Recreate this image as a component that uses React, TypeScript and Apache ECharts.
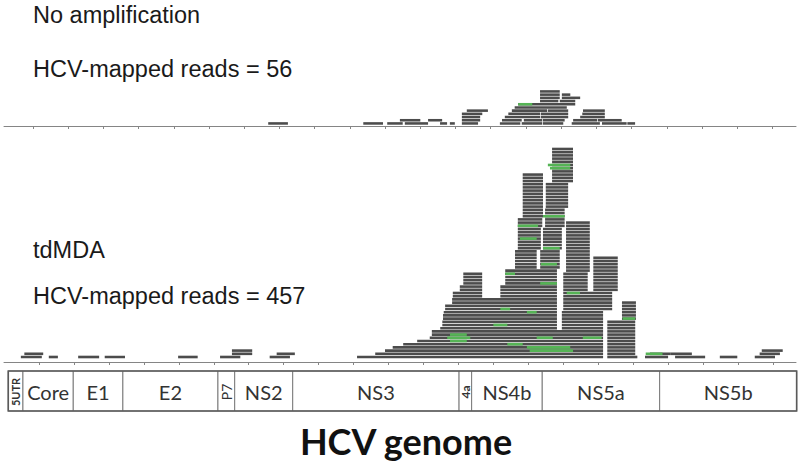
import React, { useEffect, useRef } from "react";
import * as echarts from "echarts";

// Genome position ticks (bp)
const tickPositions = [
  0, 500, 1000, 1500, 2000, 2500, 3000, 3500, 4000, 4500, 5000, 5500,
  6000, 6500, 7000, 7500, 8000, 8500, 9000, 9500, 10000, 10500,
];

// "No amplification" panel: reads as [start bp, end bp, pileup row]
const noAmpReads: [number, number, number][] = [
  [3340, 3620, 0], [4690, 4970, 0], [5030, 5250, 0], [5280, 5610, 0], [5780, 5880, 0],
  [5920, 5990, 0], [6090, 6320, 0], [6630, 6920, 0], [6940, 7230, 0], [7240, 7530, 0],
  [7650, 8050, 0], [8080, 8430, 0], [8440, 8550, 0],
  [5210, 5500, 1], [5610, 5810, 1], [6090, 6350, 1], [6660, 6940, 1], [6970, 7230, 1],
  [7240, 7550, 1], [7670, 8010, 1], [8020, 8360, 1],
  [6090, 6350, 2], [6700, 7200, 2], [7210, 7600, 2], [7770, 8120, 2],
  [6090, 6380, 3], [6750, 7200, 3], [7210, 7600, 3], [7800, 8120, 3],
  [6160, 6460, 4], [6800, 7300, 4], [7310, 7600, 4], [7810, 8120, 4],
  [6840, 7580, 5],
  [6890, 7700, 6],
  [7200, 7460, 7], [7480, 7700, 7],
  [7200, 7480, 8], [7510, 7770, 8],
  [7200, 7480, 9], [7510, 7630, 9],
  [7200, 7480, 10],
];
const noAmpGreenReads: [number, number, number][] = [[6890, 7090, 6]];

// tdMDA panel: stacked read runs as [start bp, end bp, first row, last row]
const tdmdaBlocks: [number, number, number, number][] = [
  [-260, 40, 0, 0], [-210, 60, 1, 1], [140, 270, 0, 0], [560, 860, 0, 0], [940, 1230, 0, 0],
  [1990, 2270, 0, 0], [2590, 2880, 0, 0], [2760, 3050, 1, 2], [3300, 3590, 0, 0], [3400, 3660, 1, 1],
  [4550, 8070, 0, 0], [4810, 8070, 1, 1], [4950, 8070, 2, 2], [5060, 8070, 3, 3],
  [5210, 8070, 4, 4], [5410, 8070, 5, 5], [5590, 8070, 6, 6], [5620, 8070, 7, 8],
  [5740, 7410, 9, 9], [5770, 7410, 10, 11], [5780, 7410, 12, 13], [5790, 7410, 14, 14],
  [7480, 8070, 9, 14],
  [5810, 7410, 15, 16], [5910, 7410, 17, 18], [7500, 8200, 15, 20],
  [5920, 6340, 19, 20], [6600, 7410, 19, 22],
  [6020, 6340, 21, 22], [6070, 6340, 23, 26], [6670, 7410, 23, 27],
  [7500, 7850, 21, 26], [7930, 8280, 21, 31], [7540, 7880, 27, 42],
  [6810, 7120, 28, 33], [7170, 7450, 28, 33],
  [6850, 7180, 34, 40], [7210, 7480, 34, 40],
  [6850, 7200, 41, 43], [7240, 7520, 41, 46],
  [6920, 7210, 44, 57], [7250, 7570, 47, 54], [7340, 7640, 55, 65],
  [8130, 8560, 0, 0], [8130, 8530, 1, 11], [8340, 8540, 12, 17],
  [8670, 9000, 0, 0], [9100, 9530, 0, 0], [8740, 9030, 1, 1], [9030, 9340, 1, 1],
  [9740, 9990, 0, 0], [10240, 10530, 0, 0], [10310, 10600, 1, 1], [10340, 10640, 2, 2],
];
const tdmdaGreenReads: [number, number, number][] = [
  [5840, 6170, 6], [5880, 6120, 7], [5880, 6120, 5], [6850, 7140, 41], [6880, 7120, 37],
  [7280, 7600, 60], [7310, 7600, 59], [7210, 7520, 44], [7210, 7450, 34], [7180, 7410, 29],
  [6670, 6810, 26], [7170, 7410, 23], [7550, 7740, 20], [6600, 6740, 15], [6980, 7120, 14],
  [8350, 8530, 12], [6500, 6700, 10], [7120, 7350, 6], [7780, 8050, 6], [6980, 7600, 3],
  [6700, 6920, 4], [7020, 7640, 2], [8680, 8920, 1],
];

// HCV genome regions (bp)
const regionNames = ["5UTR", "Core", "E1", "E2", "P7", "NS2", "NS3", "4a", "NS4b", "NS5a", "NS5b"];
const regionStarts = [-440, -230, 490, 1200, 2560, 2800, 3630, 6010, 6190, 7200, 8880];
const regionEnds = [-230, 490, 1200, 2560, 2800, 3630, 6010, 6190, 7200, 8880, 10840];
const regionVertical = [true, false, false, false, true, false, false, true, false, false, false];

const panelTitles = ["No amplification", "tdMDA"];
const panelCounts = [56, 457];

const READ_GRAY = "#4c4c4c";
const READ_GREEN = "#55b455";

function expandBlocks(blocks: [number, number, number, number][]) {
  const out: [number, number, number][] = [];
  for (const [s, e, r0, r1] of blocks) {
    for (let r = r0; r <= r1; r++) out.push([s, e, r]);
  }
  return out;
}

const readRenderer = (fill: string, thick: number) => (_p: any, api: any) => {
  const a = api.coord([api.value(0), api.value(2)]);
  const b = api.coord([api.value(1), api.value(2)]);
  const h = api.size([0, thick])[1];
  return {
    type: "rect",
    shape: { x: a[0], y: a[1] - h / 2, width: Math.max(1, b[0] - a[0]), height: h },
    style: { fill },
  };
};

const regionRenderer = (_p: any, api: any) => {
  const i = api.value(2);
  const a = api.coord([api.value(0), 1]);
  const b = api.coord([api.value(1), 0]);
  const x = a[0];
  const y = a[1];
  const w = b[0] - a[0];
  const h = b[1] - a[1];
  const name = regionNames[i];
  const vertical = regionVertical[i];
  let font = '20px Lato, "Open Sans", sans-serif';
  if (name === "5UTR") font = 'bold 11px Lato, "Open Sans", sans-serif';
  if (name === "P7") font = '14px Lato, "Open Sans", sans-serif';
  if (name === "4a") font = 'bold 12px Lato, "Open Sans", sans-serif';
  return {
    type: "group",
    children: [
      {
        type: "rect",
        shape: { x, y, width: w, height: h },
        style: { fill: "#ffffff", stroke: "#7a7a7a", lineWidth: 1 },
      },
      {
        type: "text",
        x: x + w / 2,
        y: y + h / 2 + 1,
        rotation: vertical ? Math.PI / 2 : 0,
        style: { text: name, align: "center", verticalAlign: "middle", font, fill: "#333333" },
      },
    ],
  };
};

const frameRenderer = (_p: any, api: any) => {
  const a = api.coord([api.value(0), 1]);
  const b = api.coord([api.value(1), 0]);
  return {
    type: "rect",
    shape: { x: a[0], y: a[1], width: b[0] - a[0], height: b[1] - a[1] },
    style: { fill: "none", stroke: "#5a5a5a", lineWidth: 1.6 },
  };
};

function pileAxis(gridIndex: number, min: number, max: number) {
  return {
    gridIndex,
    type: "value",
    min,
    max,
    axisLine: { show: true, onZero: false, lineStyle: { color: "#858585", width: 1 } },
    axisTick: { show: true, customValues: tickPositions, length: 3, lineStyle: { color: "#858585" } },
    axisLabel: { show: false },
    splitLine: { show: false },
  };
}

export default function App() {
  const ref = useRef<HTMLDivElement>(null);
  useEffect(() => {
    if (!ref.current) return;
    const chart = echarts.init(ref.current, null, { renderer: "svg" });
    const textFont = '23.5px "Liberation Sans", Arial, sans-serif';
    const option: any = {
      animation: false,
      backgroundColor: "#ffffff",
      grid: [
        { left: 4, right: 4, top: 80, height: 46 },
        { left: 4, right: 4, top: 140, height: 222 },
        { left: 4, right: 3, top: 371, height: 40 },
      ],
      xAxis: [
        pileAxis(0, -412, 10835),
        pileAxis(1, -501, 10830),
        { gridIndex: 2, type: "value", min: -501, max: 10845, show: false },
      ],
      yAxis: [
        { gridIndex: 0, type: "value", min: -0.8, max: 13.575, show: false },
        { gridIndex: 1, type: "value", min: -1.5625, max: 67.8125, show: false },
        { gridIndex: 2, type: "value", min: 0, max: 1, show: false },
      ],
      series: [
        {
          type: "custom", xAxisIndex: 0, yAxisIndex: 0, silent: true,
          renderItem: readRenderer(READ_GRAY, 0.8), encode: { x: [0, 1], y: 2 }, data: noAmpReads,
        },
        {
          type: "custom", xAxisIndex: 0, yAxisIndex: 0, silent: true,
          renderItem: readRenderer(READ_GREEN, 0.8), encode: { x: [0, 1], y: 2 }, data: noAmpGreenReads,
        },
        {
          type: "custom", xAxisIndex: 1, yAxisIndex: 1, silent: true,
          renderItem: readRenderer(READ_GRAY, 0.82), encode: { x: [0, 1], y: 2 }, data: expandBlocks(tdmdaBlocks),
        },
        {
          type: "custom", xAxisIndex: 1, yAxisIndex: 1, silent: true,
          renderItem: readRenderer(READ_GREEN, 0.82), encode: { x: [0, 1], y: 2 }, data: tdmdaGreenReads,
        },
        {
          type: "custom", xAxisIndex: 2, yAxisIndex: 2, silent: true,
          renderItem: regionRenderer, encode: { x: [0, 1] },
          data: regionNames.map((_, i) => [regionStarts[i], regionEnds[i], i]),
        },
        {
          type: "custom", xAxisIndex: 2, yAxisIndex: 2, silent: true, z: 5,
          renderItem: frameRenderer, encode: { x: [0, 1] },
          data: [[regionStarts[0], regionEnds[regionEnds.length - 1]]],
        },
      ],
      graphic: [
        { type: "text", x: 33, y: 15, style: { text: panelTitles[0], font: textFont, fill: "#1a1a1a", verticalAlign: "middle" } },
        { type: "text", x: 33, y: 69, style: { text: `HCV-mapped reads = ${panelCounts[0]}`, font: textFont, fill: "#1a1a1a", verticalAlign: "middle" } },
        { type: "text", x: 33, y: 250, style: { text: panelTitles[1], font: textFont, fill: "#1a1a1a", verticalAlign: "middle" } },
        { type: "text", x: 33, y: 296, style: { text: `HCV-mapped reads = ${panelCounts[1]}`, font: textFont, fill: "#1a1a1a", verticalAlign: "middle" } },
        { type: "text", x: 406, y: 441, style: { text: "HCV genome", font: 'bold 36px Lato, "Open Sans", sans-serif', fill: "#111111", align: "center", verticalAlign: "middle" } },
      ],
    };
    chart.setOption(option);
    return () => chart.dispose();
  }, []);
  return (
    <div
      ref={ref}
      style={{ position: "fixed", left: 0, top: 0, width: 800, height: 475, background: "#fff" }}
    />
  );
}
